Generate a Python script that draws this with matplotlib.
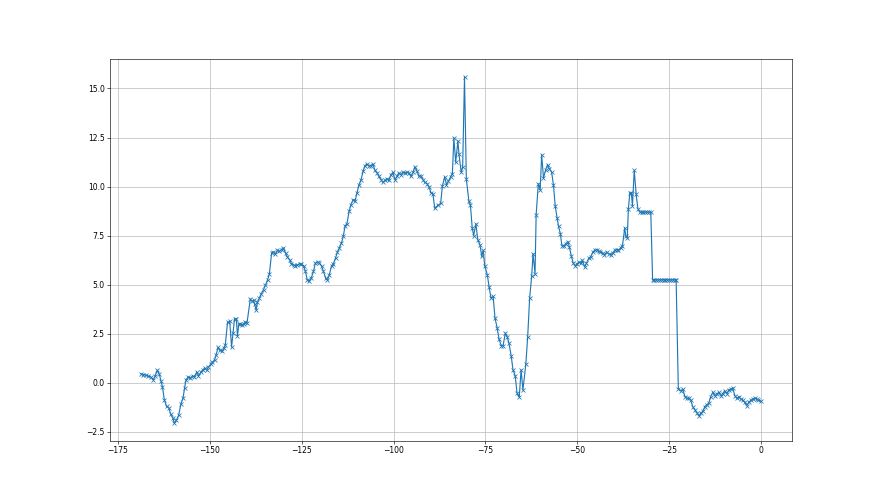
import matplotlib
matplotlib.use("Agg")
import matplotlib.pyplot as plt
import numpy as np

# Segment 1
x1 = [-168.75, -168.1, -167.4, -166.8, -166.1, -165.4, -164.9, -164.3, -163.8, -163.3,
      -162.9, -162.4, -161.8, -161.2, -160.7, -160.1, -159.7, -159.1, -158.5, -157.9,
      -157.3, -156.9, -156.5, -155.9, -155.3, -154.7, -154.2, -153.6, -153.1, -152.4,
      -152.0, -151.4, -150.9, -150.4, -149.8, -149.3, -148.7, -148.3, -147.8, -147.3,
      -146.7, -146.2, -145.8, -145.2, -144.6, -144.1, -143.7, -143.3, -142.8, -142.5]
y1 = [0.46, 0.42, 0.38, 0.35, 0.3, 0.15, 0.35, 0.65, 0.45, 0.1,
      -0.22, -0.87, -1.2, -1.27, -1.58, -1.79, -2.06, -1.9, -1.65, -1.09,
      -0.78, -0.27, 0.15, 0.3, 0.25, 0.35, 0.3, 0.55, 0.35, 0.55,
      0.65, 0.75, 0.65, 0.8, 0.95, 1.05, 1.17, 1.43, 1.8, 1.65,
      1.6, 1.75, 1.95, 3.08, 3.13, 1.82, 2.55, 3.25, 3.25, 2.4]

# Segment 2
x2 = [-142.1, -141.7, -141.2, -140.8, -140.4, -139.9, -139.0, -138.5, -138.1, -137.8,
      -137.4, -137.06, -136.5, -136.0, -135.4, -134.9, -134.3, -133.8, -133.2, -132.7,
      -132.2, -131.6, -131.1, -130.5, -130.0, -129.4, -128.9, -128.3, -127.8, -127.2,
      -126.7, -126.2, -125.6, -125.1, -124.5, -124.0, -123.5, -122.9, -122.4, -121.8,
      -121.3, -120.7, -120.2, -119.6, -119.1, -118.5, -118.0, -117.5, -116.9, -116.4,
      -115.8, -115.3, -114.8, -114.2, -113.7]
y2 = [3.0, 3.0, 2.95, 3.0, 3.1, 3.05, 4.27, 4.15, 4.2, 4.0,
      3.72, 4.1, 4.32, 4.55, 4.75, 4.96, 5.25, 5.56, 6.62, 6.67,
      6.55, 6.75, 6.7, 6.79, 6.87, 6.62, 6.41, 6.27, 6.07, 6.0,
      5.97, 6.0, 6.07, 6.03, 5.97, 5.68, 5.25, 5.2, 5.35, 5.68,
      6.1, 6.17, 6.1, 5.95, 5.68, 5.35, 5.25, 5.5, 5.95, 6.07,
      6.36, 6.65, 6.87, 7.12, 7.46]

# Segment 3
x3 = [-113.2, -112.7, -112.1, -111.6, -111.0, -110.5, -109.97, -109.4, -108.9, -108.3,
      -107.8, -107.2, -106.7, -106.2, -105.6, -105.1, -104.5, -104.0, -103.4, -102.9,
      -102.3, -101.8, -101.3, -100.7, -100.2, -99.6, -99.1, -98.6, -98.0, -97.5,
      -96.9, -96.4, -95.8, -95.3, -94.7, -94.2, -93.6, -93.1, -92.6, -92.0,
      -91.5, -90.9, -90.4, -89.8, -89.3, -88.8, -88.0, -87.2, -86.7, -86.1,
      -85.6, -85.1, -84.5, -84.0]
y3 = [8.0, 8.1, 8.74, 9.08, 9.34, 9.25, 9.68, 10.1, 10.32, 10.78,
      11.07, 11.15, 11.04, 11.07, 11.15, 10.83, 10.7, 10.52, 10.35, 10.22,
      10.32, 10.4, 10.32, 10.61, 10.72, 10.35, 10.52, 10.7, 10.61, 10.72,
      10.7, 10.72, 10.7, 10.52, 10.72, 11.02, 10.77, 10.52, 10.56, 10.35,
      10.22, 10.15, 10.0, 9.68, 9.64, 8.89, 9.04, 9.14, 10.05, 10.49,
      10.1, 10.27, 10.49, 10.66]

# Segment 4
x4 = [-83.6, -83.1, -82.5, -82.2, -81.6, -81.2, -80.7, -80.2, -79.5, -79.1,
      -78.6, -78.2, -77.6, -77.1, -76.5, -76.0, -75.6, -75.2, -74.5, -74.0,
      -73.5, -72.9, -72.4, -71.8, -71.3, -70.7, -70.2, -69.6, -69.1, -68.6,
      -68.0, -67.5, -66.9, -66.4, -65.8, -65.3, -64.8, -64.0, -63.5, -62.97,
      -62.4, -62.05, -61.5, -61.2, -60.6, -60.1, -59.7, -59.2, -58.6, -58.1,
      -57.6, -57.0, -56.5]
y4 = [12.48, 11.24, 12.32, 11.64, 10.73, 11.0, 15.6, 10.39, 9.25, 9.08,
      7.89, 7.5, 8.11, 7.3, 7.04, 6.44, 6.75, 5.97, 5.51, 4.88,
      4.32, 4.4, 3.3, 2.79, 2.23, 1.89, 1.89, 2.53, 2.36, 2.02,
      1.38, 0.66, 0.36, -0.53, -0.73, 0.66, -0.36, 0.97, 2.36, 4.32,
      5.46, 6.58, 5.56, 8.57, 10.15, 9.83, 11.63, 10.44, 10.86, 11.12,
      10.9, 10.75, 10.1]

# Segment 5
x5 = [-56.0, -55.5, -55.1, -54.6, -54.2, -53.6, -53.1, -52.5, -52.2, -51.6,
      -51.1, -50.5, -50.0, -49.5, -48.9, -48.6, -48.0, -47.5, -46.9, -46.4,
      -45.8, -45.3, -44.7, -44.2, -43.7, -43.1, -42.6, -42.0, -41.5, -40.9,
      -40.4, -39.8, -39.3, -38.8, -38.2, -37.7, -37.1, -36.8, -36.4, -36.1,
      -35.7, -35.3, -34.99, -34.5, -33.98, -33.5, -33.0, -32.5, -32.0, -31.5,
      -31.0, -30.5, -30.0]
y5 = [9.0, 8.4, 7.97, 7.6, 6.99, 6.96, 7.1, 7.2, 6.94, 6.44,
      6.1, 5.97, 6.07, 6.14, 6.1, 6.24, 5.9, 6.1, 6.34, 6.41,
      6.65, 6.75, 6.79, 6.7, 6.68, 6.61, 6.53, 6.65, 6.58, 6.53,
      6.61, 6.75, 6.79, 6.75, 6.87, 6.99, 7.89, 7.5, 7.38, 8.86,
      9.68, 9.68, 9.03, 10.83, 9.6, 8.86, 8.7, 8.7, 8.7, 8.7,
      8.7, 8.7, 8.7]

# Segment 6
x6 = [-29.5, -29.0, -28.5, -28.0, -27.5, -27.0, -26.5, -26.0, -25.5, -25.0,
      -24.5, -24.0, -23.5, -23.1, -22.5, -21.8, -21.3, -20.7, -20.2, -19.6,
      -19.1, -18.6, -18.0, -17.5, -16.9, -16.4, -15.8, -15.3, -14.76, -14.2,
      -13.7, -13.1, -12.6, -12.0, -11.5, -10.9, -10.4, -9.9, -9.3, -8.8,
      -8.2, -7.7, -7.1, -6.6, -6.0, -5.5, -4.97, -4.4, -3.9, -3.35,
      -2.8, -2.3, -1.7, -1.2, -0.7, 0.0]
y6 = [5.25, 5.25, 5.25, 5.25, 5.25, 5.25, 5.25, 5.25, 5.25, 5.25,
      5.25, 5.25, 5.25, 5.25, -0.32, -0.4, -0.32, -0.7, -0.79, -0.79,
      -0.88, -1.21, -1.38, -1.52, -1.68, -1.55, -1.45, -1.21, -1.12, -1.03,
      -0.7, -0.49, -0.66, -0.56, -0.49, -0.66, -0.56, -0.4, -0.56, -0.37,
      -0.32, -0.28, -0.66, -0.79, -0.7, -0.83, -0.88, -1.0, -1.17, -1.0,
      -0.9, -0.83, -0.79, -0.83, -0.88, -0.95]

x = np.concatenate([x1, x2, x3, x4, x5, x6])
y = np.concatenate([y1, y2, y3, y4, y5, y6])

fig, ax = plt.subplots(figsize=(16, 9), dpi=55)
ax.plot(x, y, marker='x', color='C0')
ax.grid(True)
fig.savefig("out.png", dpi=55)
